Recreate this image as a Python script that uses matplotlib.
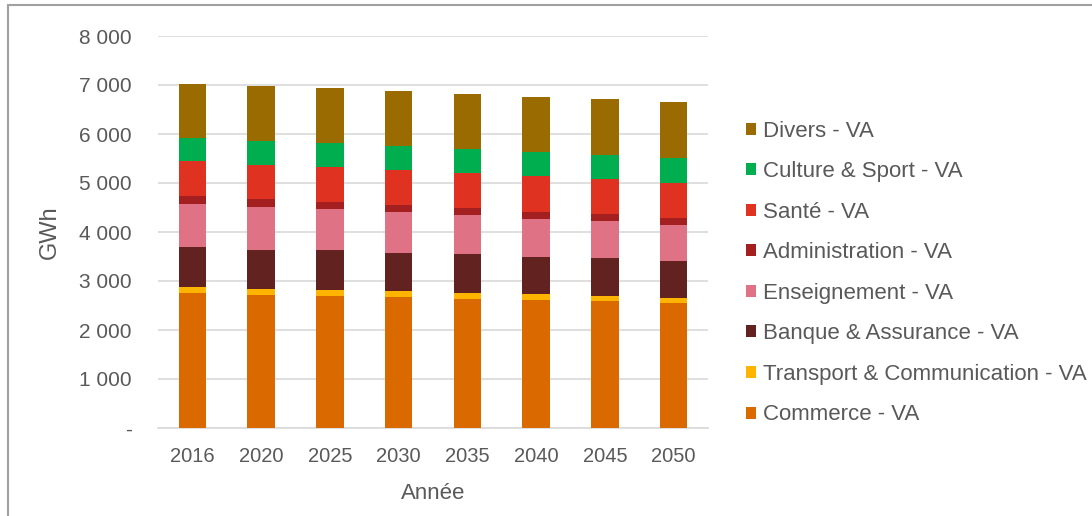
import numpy as np
import matplotlib.pyplot as plt
from matplotlib.patches import Rectangle, Patch
from matplotlib.ticker import FuncFormatter

plt.rcParams['font.family'] = ['Liberation Sans', 'DejaVu Sans']

years = ['2016', '2020', '2025', '2030', '2035', '2040', '2045', '2050']

# GWh per sector (bottom to top of the stack)
commerce = [2760, 2715, 2700, 2670, 2640, 2610, 2590, 2545]
transport = [125, 115, 125, 125, 120, 120, 110, 110]
banque = [805, 800, 800, 785, 790, 765, 770, 760]
enseignement = [875, 885, 840, 820, 790, 770, 750, 725]
administration = [170, 150, 155, 150, 150, 150, 145, 150]
sante = [705, 705, 715, 715, 705, 720, 720, 710]
culture = [485, 495, 480, 495, 490, 490, 495, 510]
divers = [1095, 1105, 1125, 1125, 1135, 1135, 1130, 1135]

series = [
    ('Commerce - VA', commerce, '#DA6A00'),
    ('Transport & Communication - VA', transport, '#FFB400'),
    ('Banque & Assurance - VA', banque, '#622220'),
    ('Enseignement - VA', enseignement, '#E07286'),
    ('Administration - VA', administration, '#A41F20'),
    ('Santé - VA', sante, '#E03221'),
    ('Culture & Sport - VA', culture, '#00AE50'),
    ('Divers - VA', divers, '#9A6B00'),
]

txt = '#595959'
fig = plt.figure(figsize=(10.92, 5.16), dpi=100)
ax = fig.add_axes([158 / 1092, 1 - 428 / 516, 550 / 1092, 392 / 516])

x = np.arange(len(years))
bottom = np.zeros(len(years))
for label, vals, col in series:
    ax.bar(x, vals, width=0.4, bottom=bottom, color=col, label=label, zorder=3)
    bottom += np.array(vals)

ax.set_xlim(-0.5, len(years) - 0.5)
ax.set_ylim(0, 8000)
ax.set_yticks(np.arange(0, 8001, 1000))
ax.yaxis.set_major_formatter(FuncFormatter(
    lambda v, p: '-' if v == 0 else f'{int(v):,}'.replace(',', ' ')))
ax.set_xticks(x)
ax.set_xticklabels(years)
ax.grid(axis='y', color='#d9d9d9', linewidth=1.2, zorder=0)
for s in ['top', 'right', 'left']:
    ax.spines[s].set_visible(False)
ax.spines['bottom'].set_color('#d9d9d9')
ax.spines['bottom'].set_linewidth(1.2)
ax.tick_params(axis='y', length=0, pad=19, labelsize=15, labelcolor=txt)
ax.tick_params(axis='x', length=0, pad=14, labelsize=14.5, labelcolor=txt)
ax.set_xlabel('Année', fontsize=16, color=txt, labelpad=12)
ax.set_ylabel('GWh', fontsize=17, color=txt, labelpad=13)

handles = [Patch(facecolor=c, label=l) for l, v, c in series][::-1]
fig.legend(handles=handles, loc='center left', bbox_to_anchor=(726 / 1092, 1 - 273 / 516),
           frameon=False, fontsize=16, labelcolor=txt, handlelength=0.45,
           handleheight=0.45, handletextpad=0.3, labelspacing=0.88)

fig.patches.append(Rectangle((8 / 1092, -0.1), 1.2, 1 - 5 / 516 + 0.1,
                             transform=fig.transFigure, fill=False,
                             edgecolor='#a0a0a0', linewidth=1.5))

fig.savefig('out.png', dpi=100)
